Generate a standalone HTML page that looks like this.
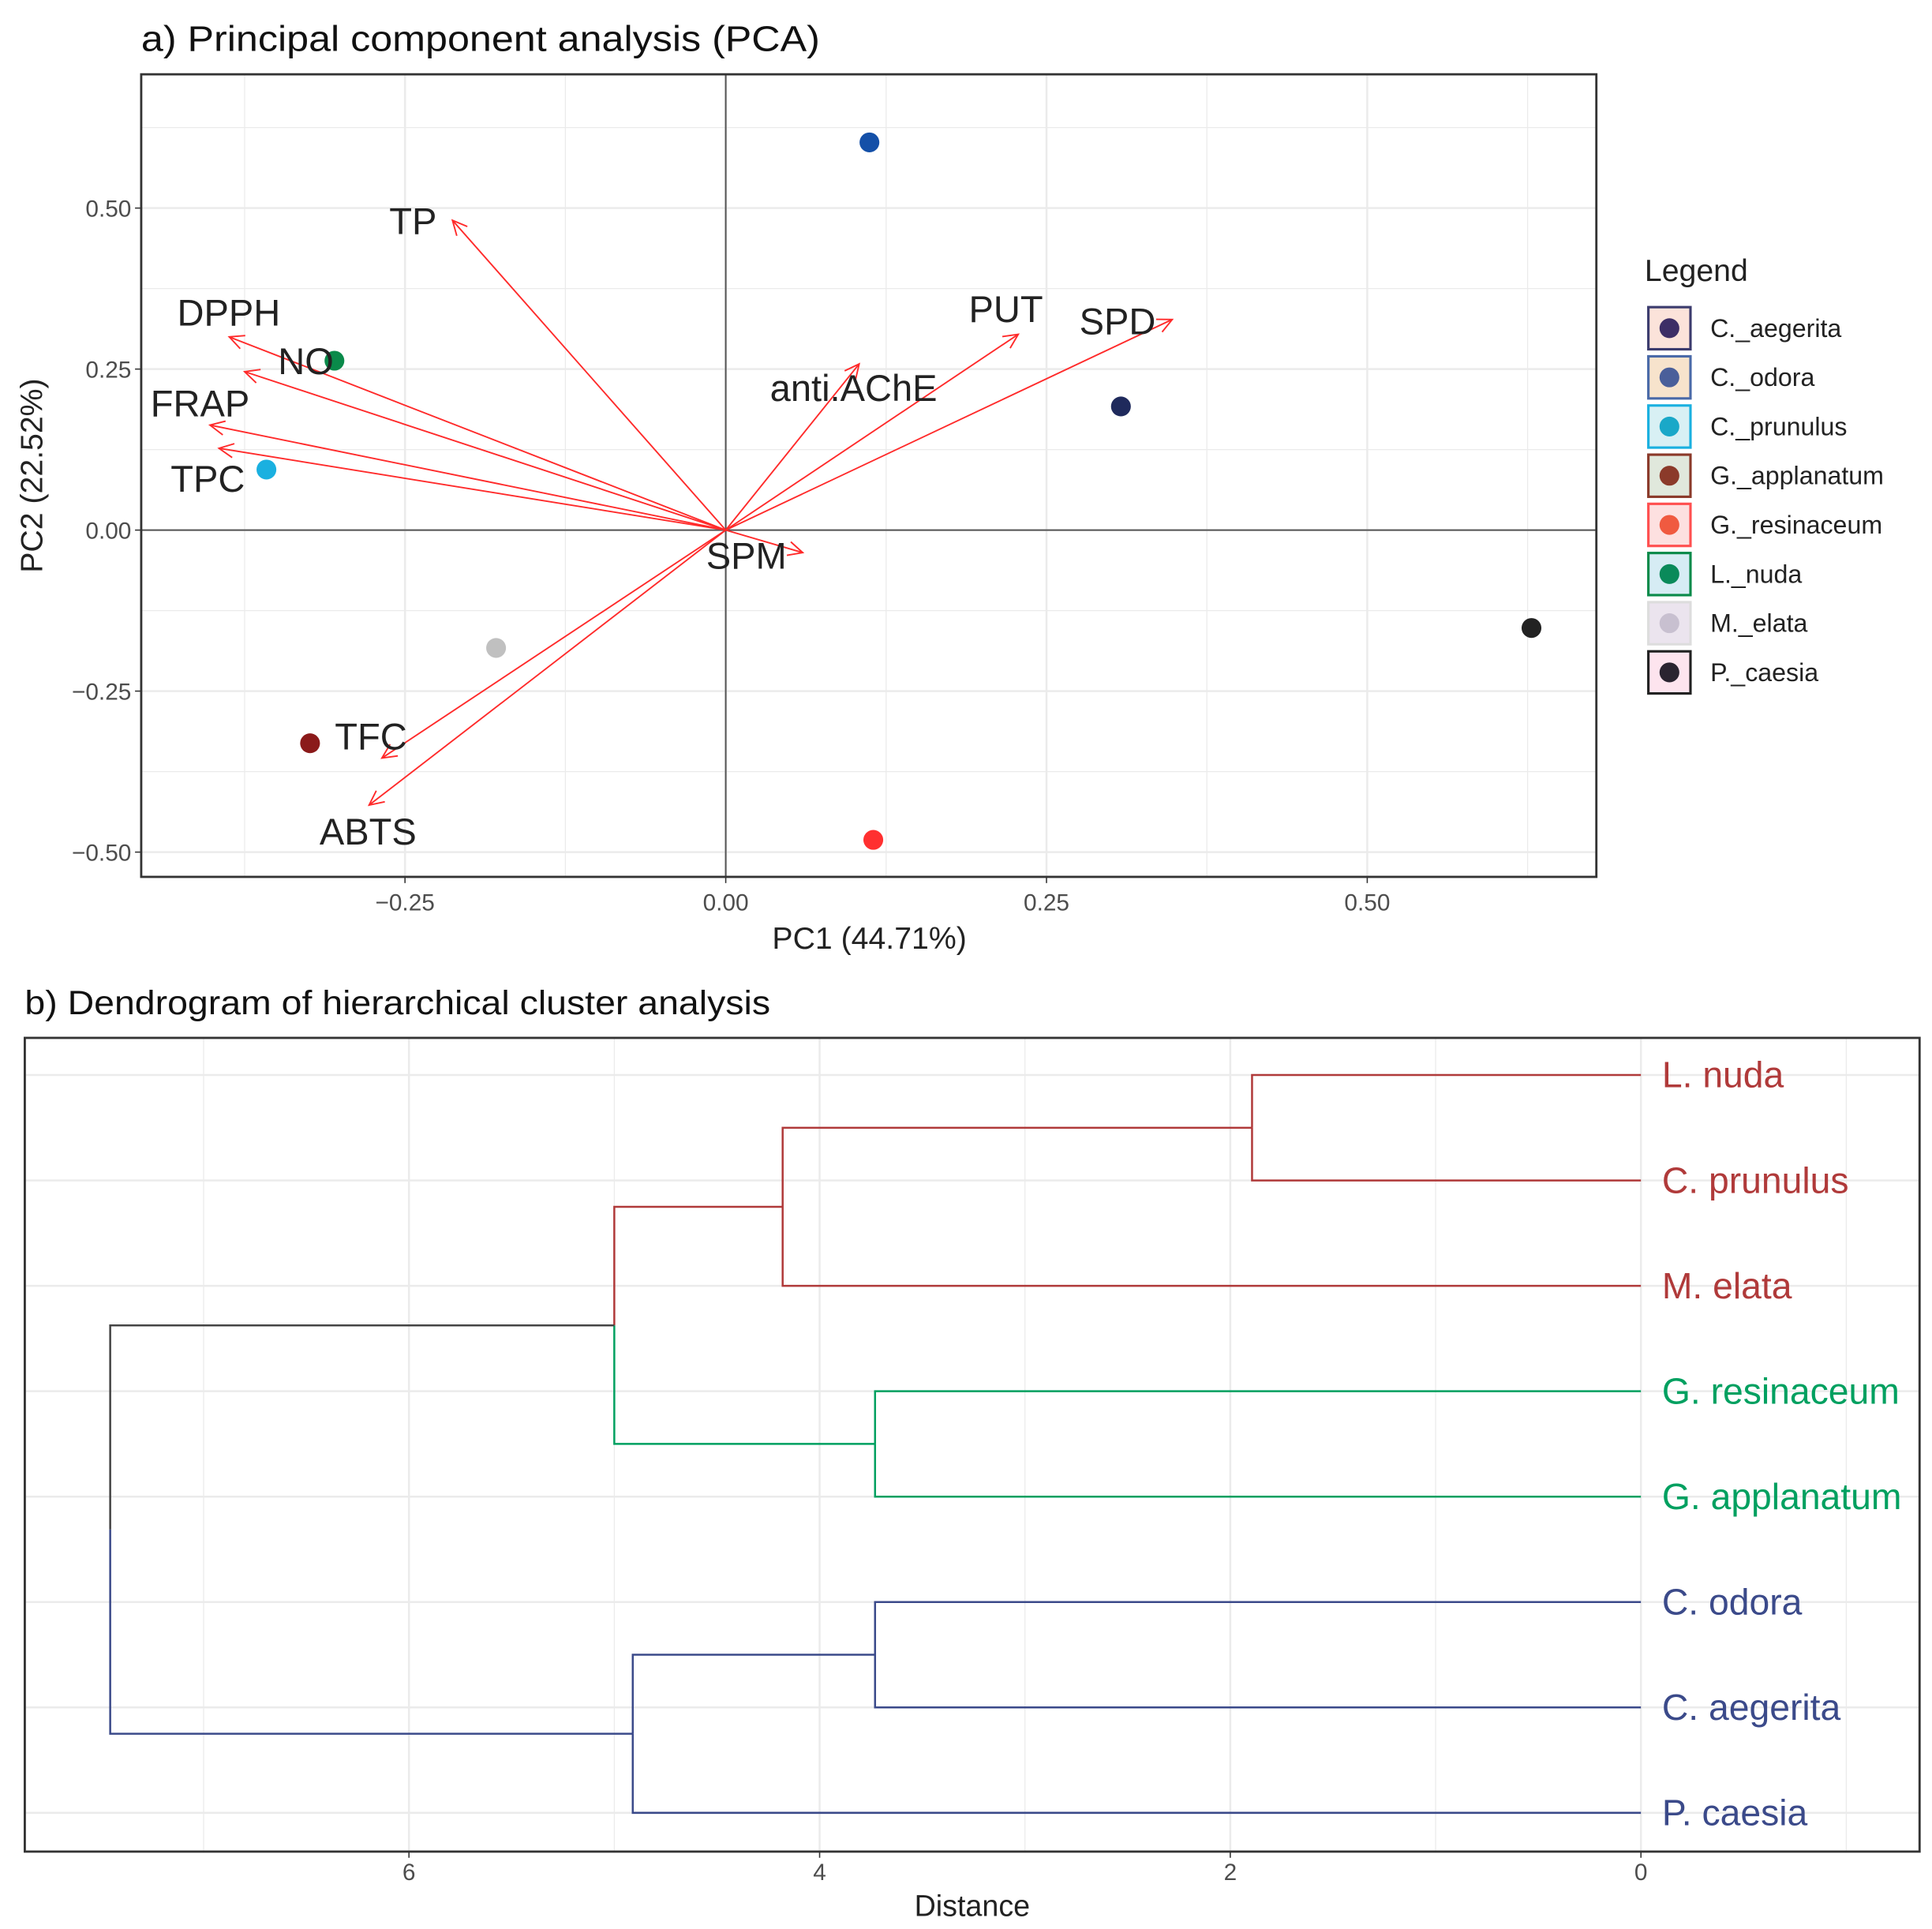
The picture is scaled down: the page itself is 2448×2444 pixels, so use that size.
<!DOCTYPE html>
<html><head><meta charset="utf-8"><style>
html,body{margin:0;padding:0;background:#fff}
svg{display:block}
text{font-family:"Liberation Sans",Arial,sans-serif}
</style></head><body>
<svg id="fig" width="2448" height="2444" viewBox="0 0 1560 1557.5" xmlns="http://www.w3.org/2000/svg">
<rect width="1560" height="1557.5" fill="#fff"/>
<text x="114" y="41" font-size="29" fill="#111" textLength="548" lengthAdjust="spacingAndGlyphs">a) Principal component analysis (PCA)</text>
<g id="pca"></g>
<g id="legend"></g>
<text x="20" y="819" font-size="27" fill="#111" textLength="602" lengthAdjust="spacingAndGlyphs">b) Dendrogram of hierarchical cluster analysis</text>
<g id="dend"></g>
</svg>
<script>
// ---------- PCA data ----------
const sampleNames = ["C._aegerita","C._odora","C._prunulus","G._applanatum","G._resinaceum","L._nuda","M._elata","P._caesia"];
const samplePC1 = [0.308, 0.112, -0.358, -0.324, 0.115, -0.305, -0.179, 0.628];
const samplePC2 = [0.192, 0.602, 0.094, -0.331, -0.481, 0.263, -0.183, -0.152];
const sampleColors = ["#1f2a5c","#1450a8","#1ab0e0","#8b1a1a","#ff3030","#0a8a4a","#c0c0c0","#222222"];
const legendFill = ["#fbe3da","#f7e3cc","#d8f0f4","#e0e8dc","#fde0e0","#d6ecf4","#ebe4ee","#fde4ee"];
const legendBorder = ["#3c3c6e","#4a6aa8","#1ab0e0","#8b3a2a","#ff5050","#0a8a4a","#dddddd","#222222"];
const legendDot = ["#3d2e66","#4a5f9a","#1aa8c8","#8b3a2a","#f05a40","#0a8a5a","#c8c0d0","#2a2430"];
const varNames = ["TP","DPPH","NO","FRAP","TPC","anti.AChE","PUT","SPD","SPM","TFC","ABTS"];
const varPC1 = [-0.213,-0.387,-0.375,-0.402,-0.395,0.104,0.228,0.348,0.060,-0.268,-0.278];
const varPC2 = [0.481,0.300,0.246,0.163,0.127,0.258,0.304,0.327,-0.035,-0.354,-0.427];
const xTicks = [-0.25,0,0.25,0.5];
const xTickLabels = ["\u22120.25","0.00","0.25","0.50"];
const yTicks = [-0.5,-0.25,0,0.25,0.5];
const yTickLabels = ["\u22120.50","\u22120.25","0.00","0.25","0.50"];
// ---------- Dendrogram data ----------
const leafNames = ["L. nuda","C. prunulus","M. elata","G. resinaceum","G. applanatum","C. odora","C. aegerita","P. caesia"];
const leafColors = ["#b03a3a","#b03a3a","#b03a3a","#00a060","#00a060","#3b4a8a","#3b4a8a","#3b4a8a"];
const mergeLeft = [-1, 1, -4, 2, -6, 5, 4];
const mergeRight = [-2, -3, -5, 3, -7, -8, 6];
const mergeHeight = [1.894, 4.18, 3.73, 5.0, 3.73, 4.91, 7.455];
const mergeColor = ["#b03a3a","#b03a3a","#00a060","#b03a3a","#3b4a8a","#3b4a8a","#444444"];
const distTicks = [0,2,4,6];

const NS="http://www.w3.org/2000/svg";
function mk(parent,tag,attrs,txt){const e=document.createElementNS(NS,tag);for(const k in attrs)e.setAttribute(k,attrs[k]);if(txt!==undefined)e.textContent=txt;parent.appendChild(e);return e;}

// ---------- PCA ----------
const P={l:114,r:1289,t:60,b:708};
const sx=v=>586+v*1036, sy=v=>428-v*520;
const pca=document.getElementById('pca');
mk(pca,'rect',{x:P.l,y:P.t,width:P.r-P.l,height:P.b-P.t,fill:'#fff'});
for(let v=-0.375;v<=0.7;v+=0.125){const x=sx(v);if(x>P.l&&x<P.r){const g=mk(pca,'line',{x1:x,x2:x,y1:P.t,y2:P.b,stroke:'#ebebeb','stroke-width':Math.abs((v*4)%1)<1e-6?1.6:0.8});}}
for(let v=-0.625;v<=0.75;v+=0.125){const y=sy(v);if(y>P.t&&y<P.b){const g=mk(pca,'line',{x1:P.l,x2:P.r,y1:y,y2:y,stroke:'#ebebeb','stroke-width':Math.abs((v*4)%1)<1e-6?1.6:0.8});}}
mk(pca,'line',{x1:P.l,x2:P.r,y1:sy(0),y2:sy(0),stroke:'#555','stroke-width':1.3});
mk(pca,'line',{x1:sx(0),x2:sx(0),y1:P.t,y2:P.b,stroke:'#555','stroke-width':1.3});
varNames.forEach((n,i)=>{
  const x2=sx(varPC1[i]),y2=sy(varPC2[i]),x1=sx(0),y1=sy(0);
  const g=mk(pca,'g',{});
  
  
  mk(g,'line',{x1,y1,x2,y2,stroke:'#ff2a2a','stroke-width':1.2});
  const a=Math.atan2(y2-y1,x2-x1),L=13,w=0.45;
  mk(g,'polyline',{points:`${x2-L*Math.cos(a-w)},${y2-L*Math.sin(a-w)} ${x2},${y2} ${x2-L*Math.cos(a+w)},${y2-L*Math.sin(a+w)}`,fill:'none',stroke:'#ff2a2a','stroke-width':1.2});
});
sampleNames.forEach((n,i)=>{
  const c=mk(pca,'circle',{cx:sx(samplePC1[i]),cy:sy(samplePC2[i]),r:8,fill:sampleColors[i]});
  
  
});
const labelDx=[-51,-42,27,-48,-39,-72,-40,-75,-78,-38,-40];
const labelDy=[11,-9,2,-7,35,30,-10,12,13,-7,32];
varNames.forEach((n,i)=>{
  const t=mk(pca,'text',{x:sx(varPC1[i])+labelDx[i],y:sy(varPC2[i])+labelDy[i],'font-size':30,fill:'#222'},n);
  
  
});
mk(pca,'rect',{x:P.l,y:P.t,width:P.r-P.l,height:P.b-P.t,fill:'none',stroke:'#333','stroke-width':1.8});
xTicks.forEach((v,i)=>{
  mk(pca,'line',{x1:sx(v),x2:sx(v),y1:P.b,y2:P.b+5,stroke:'#333','stroke-width':1});
  const t=mk(pca,'text',{x:sx(v),y:P.b+27,'font-size':19,fill:'#4d4d4d','text-anchor':'middle'},xTickLabels[i]);
  
  
});
yTicks.forEach((v,i)=>{
  mk(pca,'line',{x1:P.l-5,x2:P.l,y1:sy(v),y2:sy(v),stroke:'#333','stroke-width':1});
  const t=mk(pca,'text',{x:P.l-8,y:sy(v)+7,'font-size':19,fill:'#4d4d4d','text-anchor':'end'},yTickLabels[i]);
  
  
});
let t=mk(pca,'text',{x:702,y:766,'font-size':25,fill:'#222','text-anchor':'middle'},'PC1 (44.71%)');

t=mk(pca,'text',{x:0,y:0,'font-size':25,fill:'#222','text-anchor':'middle',transform:'translate(34,384) rotate(-90)'},'PC2 (22.52%)');


const lg=document.getElementById('legend');
t=mk(lg,'text',{x:1328,y:227,'font-size':25,fill:'#222'},'Legend');

sampleNames.forEach((n,i)=>{
  const cy=265+i*39.7;
  const g=mk(lg,'g',{});
  
  
  mk(g,'rect',{x:1331,y:cy-17,width:34,height:34,fill:legendFill[i],stroke:legendBorder[i],'stroke-width':2});
  mk(g,'circle',{cx:1348,cy:cy,r:8,fill:legendDot[i]});
  mk(g,'text',{x:1381,y:cy+7,'font-size':20.5,fill:'#222'},n);
});

// ---------- Dendrogram ----------
const D={l:20,r:1550,t:838,b:1495};
const dx=v=>1325-v*165.8;
const leafY=i=>868+i*85.1;
const dd=document.getElementById('dend');
mk(dd,'rect',{x:D.l,y:D.t,width:D.r-D.l,height:D.b-D.t,fill:'#fff'});
for(let v=-1;v<=8;v++){const x=dx(v);if(x>D.l&&x<D.r){const g=mk(dd,'line',{x1:x,x2:x,y1:D.t,y2:D.b,stroke:'#ebebeb','stroke-width':v%2===0?1.6:0.8});}}
leafNames.forEach((n,i)=>{const g=mk(dd,'line',{x1:D.l,x2:D.r,y1:leafY(i),y2:leafY(i),stroke:'#ebebeb','stroke-width':1.6});});
const pos=[];
function nodePos(ref){if(ref<0)return{y:leafY(-ref-1),h:0};return pos[ref-1];}
mergeHeight.forEach((h,m)=>{
  const a=nodePos(mergeLeft[m]),b=nodePos(mergeRight[m]);
  const col=mergeColor[m];
  const g=mk(dd,'g',{});
  
  
  if(m===mergeHeight.length-1){
    const mid=(a.y+b.y)/2;
    mk(g,'polyline',{points:`${dx(a.h)},${a.y} ${dx(h)},${a.y} ${dx(h)},${mid}`,fill:'none',stroke:'#444','stroke-width':1.6});
    mk(g,'polyline',{points:`${dx(h)},${mid} ${dx(h)},${b.y} ${dx(b.h)},${b.y}`,fill:'none',stroke:'#3b4a8a','stroke-width':1.6});
  } else {
    const ca=mergeLeft[m]===4?'#b03a3a':col, cb=mergeRight[m]===3?'#00a060':col;
    mk(g,'polyline',{points:`${dx(a.h)},${a.y} ${dx(h)},${a.y} ${dx(h)},${(a.y+b.y)/2}`,fill:'none',stroke:ca,'stroke-width':1.6});
    mk(g,'polyline',{points:`${dx(h)},${(a.y+b.y)/2} ${dx(h)},${b.y} ${dx(b.h)},${b.y}`,fill:'none',stroke:cb,'stroke-width':1.6});
  }
  pos.push({y:(a.y+b.y)/2,h});
});
leafNames.forEach((n,i)=>{
  const tt=mk(dd,'text',{x:1342,y:leafY(i)+10,'font-size':29.5,fill:leafColors[i]},n);
  
  
});
mk(dd,'rect',{x:D.l,y:D.t,width:D.r-D.l,height:D.b-D.t,fill:'none',stroke:'#333','stroke-width':1.8});
distTicks.forEach(v=>{
  mk(dd,'line',{x1:dx(v),x2:dx(v),y1:D.b,y2:D.b+5,stroke:'#333','stroke-width':1});
  const tt=mk(dd,'text',{x:dx(v),y:D.b+23,'font-size':19,fill:'#4d4d4d','text-anchor':'middle'},String(v));
  
  
});
t=mk(dd,'text',{x:785,y:1547,'font-size':24,fill:'#222','text-anchor':'middle'},'Distance');

</script>
</body></html>
